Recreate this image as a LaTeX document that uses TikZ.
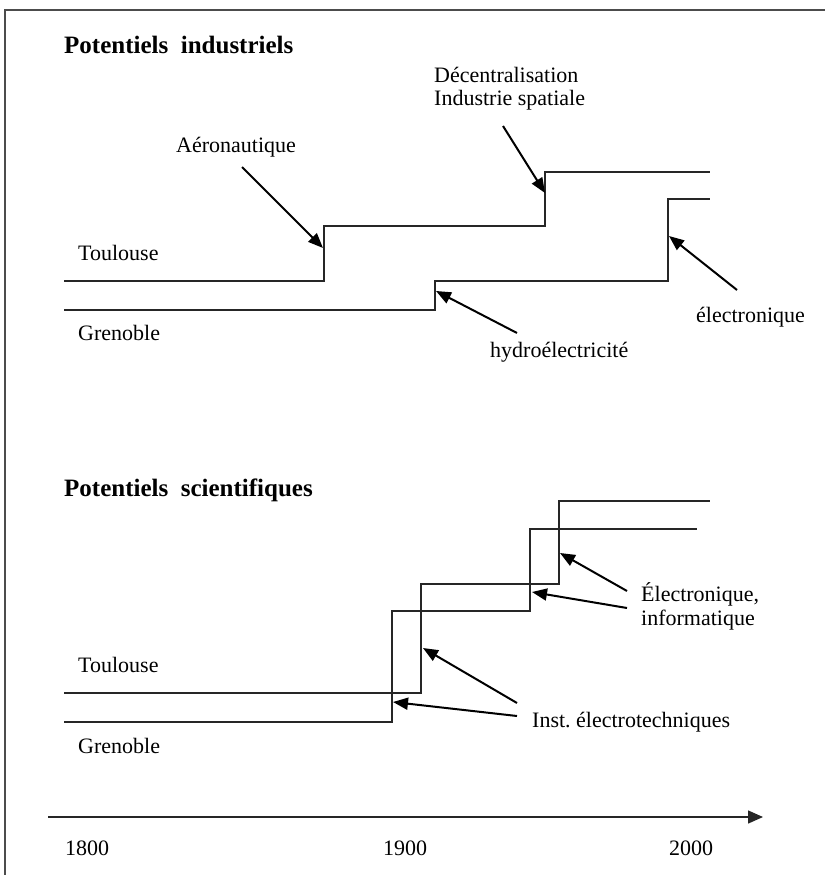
\documentclass[tikz,border=0pt]{standalone}
\usepackage{fontspec}
\setmainfont{Liberation Serif}
\usetikzlibrary{arrows.meta}
\begin{document}
\begin{tikzpicture}[x=1pt,y=-1pt]
        \tikzstyle{lbl}     = [anchor=base west, inner sep=0pt, font=\fontsize{22}{23}\selectfont]
        \tikzstyle{title}   = [anchor=base west, inner sep=0pt, font=\fontsize{25}{26}\selectfont\bfseries]
        \tikzstyle{level}   = [line width=1.6pt, black!85]
        \tikzstyle{pointer} = [-{Triangle[length=15pt,width=12pt]}, line width=2pt]

        \useasboundingbox (0,0) rectangle (825,875);
        \draw[line width=1.5pt, black!70] (5,875) -- (5,10) -- (825,10);

        % potentiels industriels
        \node[title] at (64, 53) (ind_title) {Potentiels\ \ industriels};
        \node[lbl] at (78, 260) (ind_tls) {Toulouse};
        \node[lbl] at (78, 340) (ind_grn) {Grenoble};
        \node[lbl] at (176, 152) (ind_aero) {Aéronautique};
        \node[lbl] at (434, 82) (ind_decentr) {Décentralisation};
        \node[lbl] at (434, 105) (ind_spatial) {Industrie spatiale};
        \node[lbl] at (696, 322) (ind_electr) {électronique};
        \node[lbl] at (490, 357) (ind_hydro) {hydroélectricité};

        \draw[level] (64,281) -| (324,226) -| (545,172) -- (710,172);
        \draw[level] (64,310) -| (435,281) -| (668,199) -- (710,199);

        \coordinate (aero_from)    at (242,167);
        \coordinate (aero_to)      at (323,248);
        \coordinate (decentr_from) at (503,126);
        \coordinate (decentr_to)   at (545,193);
        \coordinate (electr_from)  at (737,290);
        \coordinate (electr_to)    at (669,236);
        \coordinate (hydro_from)   at (517,333);
        \coordinate (hydro_to)     at (436,291);

        \path[pointer]
          (aero_from) edge (aero_to)
          (decentr_from) edge (decentr_to)
          (electr_from) edge (electr_to)
          (hydro_from) edge (hydro_to)
        ;

        % potentiels scientifiques
        \node[title] at (64, 496) (sci_title) {Potentiels\ \ scientifiques};
        \node[lbl] at (78, 672) (sci_tls) {Toulouse};
        \node[lbl] at (78, 753) (sci_grn) {Grenoble};
        \node[lbl] at (641, 601) (sci_electr) {Électronique,};
        \node[lbl] at (641, 625) (sci_info) {informatique};
        \node[lbl] at (532, 727) (sci_inst) {Inst.\ électrotechniques};

        \draw[level] (64,693) -| (421,584) -| (559,501) -- (710,501);
        \draw[level] (64,722) -| (392,611) -| (530,529) -- (697,529);

        \coordinate (info_from1) at (627,591);
        \coordinate (info_to1)   at (560,553);
        \coordinate (info_from2) at (627,608);
        \coordinate (info_to2)   at (532,592);
        \coordinate (inst_from1) at (517,703);
        \coordinate (inst_to1)   at (423,648);
        \coordinate (inst_from2) at (517,716);
        \coordinate (inst_to2)   at (393,702);

        \path[pointer]
          (info_from1) edge (info_to1)
          (info_from2) edge (info_to2)
          (inst_from1) edge (inst_to1)
          (inst_from2) edge (inst_to2)
        ;

        % axe du temps
        \coordinate (axis_start) at (48,817);
        \coordinate (axis_end)   at (763,817);
        \draw[line width=1.5pt, black!85, -{Triangle[length=15pt,width=13pt]}] (axis_start) -- (axis_end);
        \node[lbl] at (65, 855) (y1800) {1800};
        \node[lbl] at (383, 855) (y1900) {1900};
        \node[lbl] at (669, 855) (y2000) {2000};
      \end{tikzpicture}
\end{document}
